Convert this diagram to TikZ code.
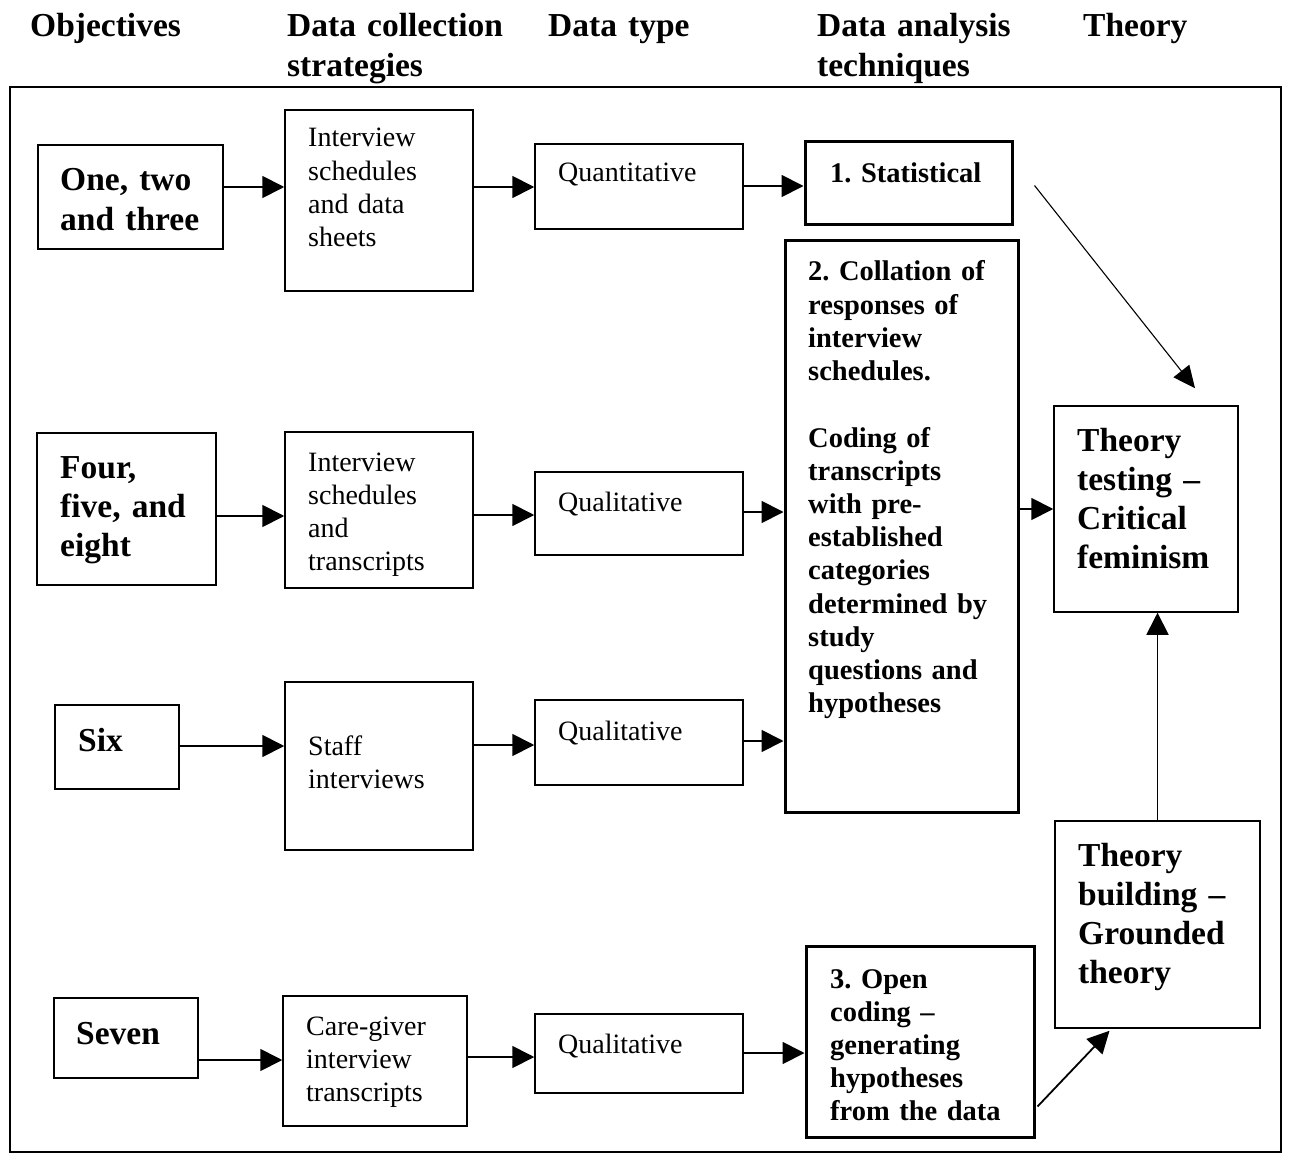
\documentclass[tikz,border=0pt]{standalone}
\usepackage{fontspec}
\setmainfont{Liberation Serif}
\usetikzlibrary{fit,calc,arrows.meta}
\frenchspacing
\begin{document}
\begin{tikzpicture}[x=1pt,y=-1pt,
  box/.style={draw, line width=1.5pt, inner sep=0pt},
  thickbox/.style={draw, line width=3pt, inner sep=0pt},
  frame/.style={draw, line width=2.5pt, inner sep=0pt},
  txt/.style={anchor=base west, inner sep=0pt, text width=400pt, align=left},
  reg/.style={font=\fontsize{28}{33.2}\selectfont},
  bsmall/.style={font=\fontsize{28.5}{33.2}\selectfont\bfseries},
  blarge/.style={font=\fontsize{33.5}{39.3}\selectfont\bfseries},
  arr/.style={line width=1.8pt, -{Triangle[length=22pt,width=22pt]}},
  thinarr/.style={line width=1.1pt, -{Triangle[length=22pt,width=20pt]}}]
\useasboundingbox (0,0) rectangle (1289,1155);

% column headings
\node[txt, blarge] (h1) at (30,37) {Objectives};
\node[txt, blarge] (h2) at (287,37) {Data collection\\strategies};
\node[txt, blarge] (h3) at (548,37) {Data type};
\node[txt, blarge] (h4) at (817,37) {Data analysis\\techniques};
\node[txt, blarge] (h5) at (1083,37) {Theory};

% outer frame
\node[frame, fit={(10,87) (1281,1152)}] (frame) {};

% objectives
\node[box, fit={(38,145) (223,249)}] (o1) {};
\node[txt, blarge] (o1t) at (60,191) {One, two\\and three};
\node[box, fit={(37,433) (216,585)}] (o2) {};
\node[txt, blarge] (o2t) at (60,478) {Four,\\five, and\\eight};
\node[box, fit={(55,705) (179,789)}] (o3) {};
\node[txt, blarge] (o3t) at (78,751) {Six};
\node[box, fit={(54,998) (198,1078)}] (o4) {};
\node[txt, blarge] (o4t) at (76,1044) {Seven};

% data collection strategies
\node[box, fit={(285,110) (473,291)}] (s1) {};
\node[txt, reg] (s1t) at (308,147) {Interview\\schedules\\and data\\sheets};
\node[box, fit={(285,432) (473,588)}] (s2) {};
\node[txt, reg] (s2t) at (308,471) {Interview\\schedules\\and\\transcripts};
\node[box, fit={(285,682) (473,850)}] (s3) {};
\node[txt, reg] (s3t) at (308,755) {Staff\\interviews};
\node[box, fit={(283,996) (467,1126)}] (s4) {};
\node[txt, reg] (s4t) at (306,1035) {Care-giver\\interview\\transcripts};

% data types
\node[box, fit={(535,144) (743,229)}] (d1) {};
\node[txt, reg] (d1t) at (558,182) {Quantitative};
\node[box, fit={(535,472) (743,555)}] (d2) {};
\node[txt, reg] (d2t) at (558,511) {Qualitative};
\node[box, fit={(535,700) (743,785)}] (d3) {};
\node[txt, reg] (d3t) at (558,740) {Qualitative};
\node[box, fit={(535,1014) (743,1093)}] (d4) {};
\node[txt, reg] (d4t) at (558,1053) {Qualitative};

% data analysis techniques
\node[thickbox, fit={(805,142) (1012,225)}] (stat) {};
\node[txt, bsmall] (statt) at (830,183) {1. Statistical};
\node[thickbox, fit={(785,241) (1018,812)}] (coll) {};
\node[txt, bsmall] (collt) at (808,281) {2. Collation of\\responses of\\interview\\schedules.\\\mbox{}\\Coding of\\transcripts\\with pre-\\established\\categories\\determined by\\study\\questions and\\hypotheses};
\node[thickbox, fit={(806,946) (1034,1137)}] (open) {};
\node[txt, bsmall] (opent) at (830,988) {3. Open\\coding --\\generating\\hypotheses\\from the data};

% theory
\node[box, fit={(1054,406) (1238,612)}] (tt) {};
\node[txt, blarge] (ttt) at (1077,451) {Theory\\testing --\\Critical\\feminism};
\node[box, fit={(1055,821) (1260,1028)}] (tb) {};
\node[txt, blarge] (tbt) at (1078,866) {Theory\\building --\\Grounded\\theory};

% row connectors
\draw[arr] (o1.east |- 0,187) -- (s1.west |- 0,187);
\draw[arr] (s1.east |- 0,187) -- (d1.west |- 0,187);
\draw[arr] (d1.east |- 0,186) -- (stat.west |- 0,186);

\draw[arr] (o2.east |- 0,516) -- (s2.west |- 0,516);
\draw[arr] (s2.east |- 0,515) -- (d2.west |- 0,515);
\draw[arr] (d2.east |- 0,512) -- (coll.west |- 0,512);

\draw[arr] (o3.east |- 0,746) -- (s3.west |- 0,746);
\draw[arr] (s3.east |- 0,745) -- (d3.west |- 0,745);
\draw[arr] (d3.east |- 0,741) -- (coll.west |- 0,741);

\draw[arr] (o4.east |- 0,1060) -- (s4.west |- 0,1060);
\draw[arr] (s4.east |- 0,1057) -- (d4.west |- 0,1057);
\draw[arr] (d4.east |- 0,1053) -- (open.west |- 0,1053);

% connectors into the theory boxes
\draw[thinarr] ($(stat.east)+(21,2)$) -- ($(tt.north)+(49,-17)$);
\draw[arr] (coll.east |- tt.west) -- (tt.west);
\draw[arr] (tb.north) -- (tb.north |- tt.south);
\draw[arr] ($(open.south east)+(2,-32)$) -- ($(tb.south)+(-48,2)$);
\end{tikzpicture}
\end{document}
